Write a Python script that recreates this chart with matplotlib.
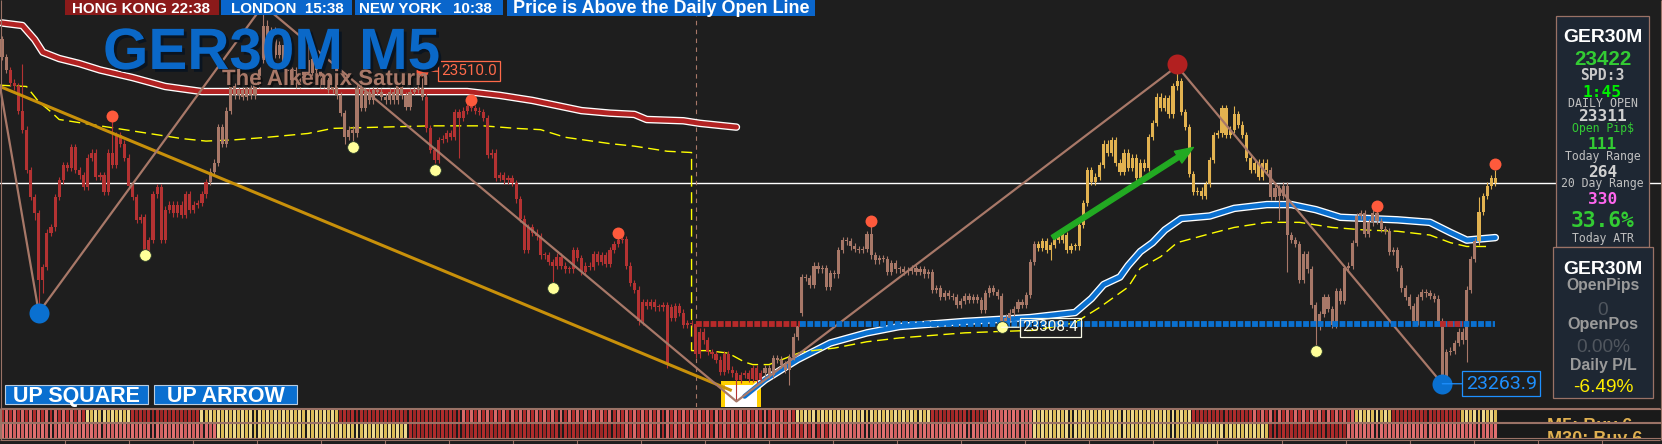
import numpy as np
import matplotlib
matplotlib.use('Agg')
import matplotlib.pyplot as plt
from matplotlib import patheffects as pe
from matplotlib import font_manager as fm
from matplotlib.patches import Rectangle, FancyArrowPatch

W, H = 1662, 444
BG = '#1e1e1e'
TAN = '#a87868'
BORDER = '#9a7266'

# ---- GER30M M5 closes, one per bar ----
closes = [
    23521, 23511, 23501, 23498, 23479, 23464, 23432, 23411, 23398, 23346,
    23356, 23383, 23387, 23411, 23424, 23436, 23434, 23450, 23432, 23428,
    23419, 23442, 23446, 23427, 23428, 23415, 23446, 23436, 23460, 23453,
    23442, 23420, 23411, 23393, 23395, 23369, 23377, 23413, 23419, 23377,
    23401, 23405, 23398, 23405, 23397, 23413, 23401, 23405, 23406, 23413,
    23423, 23431, 23438, 23466, 23453, 23479, 23498, 23491, 23495, 23490,
    23497, 23491, 23499, 23519, 23546, 23535, 23542, 23523, 23531, 23515,
    23503, 23511, 23499, 23505, 23519, 23509, 23520, 23511, 23499, 23503,
    23495, 23499, 23491, 23477, 23458, 23464, 23461, 23497, 23481, 23494,
    23487, 23495, 23494, 23490, 23487, 23494, 23487, 23498, 23491, 23482,
    23494, 23495, 23497, 23490, 23465, 23448, 23440, 23456, 23457, 23461,
    23458, 23478, 23473, 23479, 23483, 23481, 23479, 23478, 23473, 23444,
    23446, 23426, 23428, 23424, 23426, 23422, 23409, 23394, 23369, 23387,
    23383, 23380, 23365, 23365, 23360, 23357, 23364, 23357, 23354, 23354,
    23369, 23363, 23352, 23357, 23356, 23366, 23360, 23365, 23358, 23369,
    23374, 23377, 23378, 23357, 23343, 23338, 23313, 23328, 23325, 23328,
    23324, 23324, 23326, 23279, 23316, 23325, 23320, 23310, 23312, 23311,
    23287, 23305, 23298, 23289, 23287, 23283, 23273, 23287, 23275, 23272,
    23267, 23271, 23272, 23268, 23276, 23267, 23272, 23276, 23271, 23284,
    23283, 23279, 23275, 23285, 23301, 23309, 23348, 23347, 23342, 23357,
    23354, 23355, 23340, 23351, 23350, 23369, 23377, 23376, 23372, 23370,
    23369, 23370, 23382, 23365, 23361, 23363, 23362, 23352, 23359, 23354,
    23354, 23352, 23353, 23355, 23352, 23354, 23350, 23352, 23338, 23339,
    23332, 23335, 23333, 23332, 23326, 23329, 23333, 23330, 23332, 23330,
    23322, 23335, 23339, 23336, 23333, 23310, 23316, 23320, 23323, 23328,
    23326, 23334, 23360, 23374, 23371, 23376, 23369, 23373, 23380, 23377,
    23381, 23369, 23372, 23372, 23389, 23406, 23432, 23423, 23427, 23436,
    23453, 23446, 23456, 23438, 23431, 23446, 23434, 23442, 23426, 23438,
    23434, 23458, 23469, 23490, 23481, 23489, 23476, 23498, 23502, 23478,
    23466, 23429, 23415, 23416, 23412, 23421, 23440, 23460, 23461, 23481,
    23460, 23464, 23476, 23468, 23460, 23442, 23432, 23438, 23427, 23438,
    23432, 23411, 23418, 23412, 23420, 23381, 23377, 23374, 23346, 23366,
    23354, 23326, 23309, 23319, 23332, 23323, 23310, 23337, 23329, 23355,
    23357, 23375, 23396, 23398, 23382, 23391, 23398, 23392, 23386, 23384,
    23368, 23369, 23355, 23339, 23332, 23325, 23313, 23332, 23336, 23335,
    23333, 23331, 23313, 23266, 23289, 23290, 23296, 23305, 23298, 23338,
    23362, 23376, 23399, 23412, 23420, 23426, 23422,
]
open_fix = {0: 23535, 164: 23324, 196: 23320}
high_fix = {5: 23516, 27: 23472, 64: 23562, 65: 23550, 75: 23531, 103: 23510,
            115: 23483, 151: 23379, 213: 23389, 288: 23514, 302: 23483,
            337: 23400, 362: 23411, 366: 23432}
low_fix = {8: 23393, 9: 23320, 10: 23335, 35: 23368, 84: 23453, 86: 23453,
           106: 23438, 112: 23442, 135: 23344, 163: 23276, 180: 23250,
           193: 23263, 245: 23308.4, 257: 23361, 313: 23393, 315: 23352,
           322: 23293, 353: 23263.9, 359: 23281}
candle_runs = [('tan', 2), ('red', 49), ('tan', 53), ('red', 83), ('tan', 67),
               ('gold', 57), ('tan', 51), ('gold', 5)]

daily_open = 23311
current_price = 23422
day_start = 170
open_line_runs = [(170, 195.5, 'red'), (195.5, 366, 'blue'), (352.5, 358, 'red')]

# moving averages (sampled from the chart)
red_ma_x = [0, 5, 8, 10, 14, 19, 24, 32, 40, 49, 75, 114, 122, 130, 136, 142,
            149, 155, 158, 167, 171, 180]
red_ma_y = [23548, 23546, 23535, 23525, 23520, 23516, 23511, 23505, 23498,
            23494, 23494, 23494, 23491, 23487, 23483, 23479, 23477, 23476,
            23472, 23471, 23469, 23466]
blue_ma_x = [182, 187, 195, 203, 212, 220, 236, 252, 263, 267, 270, 274, 276,
             279, 282, 285, 289, 296, 302, 310, 316, 322, 328, 342, 350, 355,
             359, 366]
blue_ma_y = [23254, 23267, 23283, 23296, 23304, 23309, 23313, 23316, 23320,
             23331, 23342, 23348, 23357, 23368, 23375, 23385, 23394, 23396,
             23402, 23405, 23405, 23401, 23395, 23393, 23391, 23383, 23377,
             23379]
yel_x = [-0.5, 6, 9, 12, 14, 18, 26, 36, 44, 50, 57, 65, 75, 81, 93, 105, 118,
         126, 132, 138, 149, 155, 163, 169, 169, 173, 178, 182, 184, 188, 196,
         204, 212, 220, 228, 236, 244, 253, 263, 269, 276, 279, 284, 288, 296,
         302, 310, 318, 326, 334, 342, 350, 355, 359, 365]
yel_y = [23499, 23498, 23486, 23478, 23472, 23470, 23466, 23461, 23457, 23455,
         23456, 23458, 23461, 23465, 23466, 23467, 23467, 23465, 23464, 23458,
         23453, 23451, 23447, 23446, 23290, 23290, 23288, 23281, 23279, 23279,
         23289, 23292, 23297, 23300, 23302, 23304, 23305, 23306, 23312, 23324,
         23340, 23355, 23364, 23375, 23382, 23387, 23391, 23391, 23387, 23385,
         23384, 23381, 23375, 23372, 23372]

trend_x = [-0.5, 178.5]
trend_y = [23498, 23259]
zz_x = [-0.5, 9, 64, 180, 288, 353]
zz_y = [23498, 23320, 23562, 23250, 23514, 23263.9]
frac_hi_x = [27, 103, 115, 151, 213, 337, 366]
frac_hi_y = [23475, 23510, 23487, 23383, 23392, 23404, 23437]
frac_lo_x = [35, 86, 106, 135, 245, 322]
frac_lo_y = [23365, 23450, 23432, 23339, 23308.4, 23290]
arrow_from = (257.5, 23379)
arrow_to = (292, 23450)
signal_bar, signal_top = 181, 23266

band1_runs = [('M', 21), ('G', 11), ('R', 17), ('G', 34), ('R', 29), ('M', 83),
              ('G', 33), ('R', 14), ('S', 11), ('G', 39), ('R', 14), ('M', 26),
              ('G', 9), ('R', 17), ('G', 9)]
band2_runs = [('S', 53), ('G', 47), ('R', 52), ('M', 52), ('S', 49), ('G', 58),
              ('R', 19), ('S', 37)]

# ---- fonts ----
names = {f.name for f in fm.fontManager.ttflist}
HAS_NARROW = 'Liberation Sans Narrow' in names


def narrow(size):
    if HAS_NARROW:
        return 'Liberation Sans Narrow', size
    return 'Liberation Sans', size * 0.82


# ---- build candles ----
n = len(closes)
idx = np.arange(n)
c = np.array(closes, float)
o = np.r_[c[0], c[:-1]]
for k, v in open_fix.items():
    o[k] = v
hi = np.maximum(o, c) + 2.5
lo = np.minimum(o, c) - 2.5
for k, v in high_fix.items():
    hi[k] = v
for k, v in low_fix.items():
    lo[k] = v
ccol = {'red': '#b43232', 'tan': '#a87868', 'gold': '#e2b250'}
cols = np.repeat([ccol[k] for k, _ in candle_runs], [m for _, m in candle_runs])

fig = plt.figure(figsize=(W / 100, H / 100), dpi=100, facecolor=BG)
ax = fig.add_axes([0, 37 / H, 1, 407 / H])
ax.set_facecolor(BG)
ax.set_xlim(-0.5, W / 4.08 - 0.5)
ax.set_ylim(23245.6, 23566.1)
ax.axis('off')

# signal square
ax.add_patch(Rectangle((signal_bar - 4.8, 23245.6), 9.8, signal_top - 23245.6,
                       fc='#ffd000', ec='none', zorder=1))
ax.add_patch(Rectangle((signal_bar - 3.8, 23245.6), 7.8, signal_top - 23248.4,
                       fc='white', ec='none', zorder=1.1))

ax.axhline(current_price, color='white', lw=1.0, zorder=2)
ax.axvline(day_start, color=TAN, lw=0.8, dashes=(4, 4), zorder=2)

# moving averages
ax.plot(red_ma_x, red_ma_y, color='white', lw=5.4, solid_capstyle='round', zorder=3)
ax.plot(red_ma_x, red_ma_y, color='#b22222', lw=3.5, solid_capstyle='round', zorder=3.1)
ax.plot(blue_ma_x, blue_ma_y, color='white', lw=5.4, solid_capstyle='round', zorder=3)
ax.plot(blue_ma_x, blue_ma_y, color='#0a70d0', lw=3.5, solid_capstyle='round', zorder=3.1)
ax.plot(yel_x, yel_y, color='#ffff00', lw=1.0, dashes=(8, 4), zorder=3.2)

# candles
ax.vlines(idx, lo, hi, colors=cols, lw=0.8, zorder=4)
ax.bar(idx, np.maximum(np.abs(c - o), 0.9), bottom=np.minimum(o, c), width=0.76,
       color=cols, linewidth=0, zorder=4.1)

# trend, zigzag, daily open
ax.plot(trend_x, trend_y, color='#c8900a', lw=2.2, zorder=5)
ax.plot(zz_x, zz_y, color=TAN, lw=1.6, zorder=5)
lcol = {'red': '#b82a2a', 'blue': '#0a70d0'}
for a, b, k in open_line_runs:
    ax.plot([a, b], [daily_open, daily_open], color=lcol[k], lw=4.2,
            dashes=(1, 0.25), zorder=5.2)

ax.add_patch(FancyArrowPatch(arrow_from, arrow_to,
                             arrowstyle='simple,head_length=1.3,head_width=1.0,tail_width=0.35',
                             mutation_scale=10, color='#22aa22', shrinkA=0, shrinkB=0, zorder=6))

# dots
ax.plot(frac_hi_x, frac_hi_y, 'o', ms=8.6, color='#ff5a3c', mec='none', zorder=6)
ax.plot(frac_lo_x, frac_lo_y, 'o', ms=8.4, color='#ffff99', mec='#2a3a2a', mew=0.6, zorder=6)
ax.plot([zz_x[1], zz_x[5]], [zz_y[1], zz_y[5]], 'o', ms=14.4, color='#0a70d0', mec='none', zorder=6)
ax.plot([zz_x[4]], [zz_y[4] + 2], 'o', ms=14.4, color='#b22020', mec='none', zorder=6)


def price_label(bar, price, text, color, size, dx):
    ax.annotate(text, xy=(bar, price), xytext=(dx, 0), textcoords='offset points',
                ha='left', va='center', color=color, fontsize=size,
                family='Roboto', fontweight='normal',
                bbox=dict(boxstyle='square,pad=0.18', fc='none', ec=color, lw=0.9),
                arrowprops=dict(arrowstyle='-', color=color, lw=0.9, shrinkA=0, shrinkB=0),
                zorder=8)


price_label(103, 23510.0, '23510.0', '#ff6a4a', 11, 13.5)
price_label(245, 23308.4, '23308.4', '#fafae6', 11, 15)
price_label(353, 23263.9, '23263.9', '#1e90ff', 14, 17)

# ---- heat bands ----
bcol = {'R': ('#b02c2c', '#9c2626'), 'S': ('#e07070', '#d06060'),
        'G': ('#dcbc58', '#eed88c'), 'M': ('#b02c2c', '#d86868')}


def band(rect, runs, label, base):
    b = fig.add_axes(rect)
    b.set_facecolor('#1a1a1a')
    b.set_xlim(ax.get_xlim())
    b.set_ylim(0, 1)
    codes = np.repeat([k for k, _ in runs], [m for _, m in runs])
    colors = [bcol[k][i % 2] for i, k in enumerate(codes)]
    b.bar(np.arange(len(codes)), 1, width=0.72, color=colors, linewidth=0)
    b.set_xticks([])
    b.set_yticks([])
    for s in b.spines.values():
        s.set_color(BORDER)
        s.set_linewidth(0.8)
    b.text(1547 / W, base, label, transform=b.transAxes, ha='left', va='baseline',
           color='#e0b050', fontsize=13, fontweight='bold', family='Liberation Sans', clip_on=True)


band([0, (H - 422) / H, 1, 13 / H], band1_runs, 'M5: Buy 6', -0.69)
band([0, (H - 438) / H, 1, 15 / H], band2_runs, 'M30: Buy 6', -0.4)

# ---- overlay (pixel coordinates) ----
ov = fig.add_axes([0, 0, 1, 1], zorder=10)
ov.set_xlim(0, W)
ov.set_ylim(H, 0)
ov.axis('off')
ov.patch.set_alpha(0)

ov.vlines([0.5, 1660.5], 0, 440, color=BORDER, lw=0.8)
ov.hlines([407.5, 439.5], 0, 1660, color=BORDER, lw=0.8)
ov.vlines(np.arange(64.6, 1660, 64.05), 440, 444, color=BORDER, lw=0.8)

# session bars
for x0, w0, h0, fc in [(65, 154, 15, '#8b1a1a'), (221, 131, 15, '#0a66cc'),
                       (355, 148, 15, '#0a66cc'), (507, 308, 16, '#0a66cc')]:
    ov.add_patch(Rectangle((x0, 0), w0, h0, fc=fc, ec='none'))
tkw = dict(color='white', fontweight='bold', family='Liberation Sans', va='baseline')
ov.text(72, 13, 'HONG KONG 22:38', fontsize=10.9, **tkw)
ov.text(231, 13, 'LONDON  15:38', fontsize=10.9, **tkw)
ov.text(359, 13, 'NEW YORK', fontsize=10.9, **tkw)
ov.text(492, 13, '10:38', fontsize=10.9, ha='right', **tkw)
ov.text(513, 13, 'Price is Above the Daily Open Line', fontsize=13, **tkw)

# title
ov.text(103, 69, 'GER30M M5', fontsize=42, fontweight='bold', family='Liberation Sans',
        color='#0a68c8', path_effects=[pe.withSimplePatchShadow(offset=(2, -2),
                                                                 shadow_rgbFace='#0a1420', alpha=1)])
ov.text(222, 85, 'The Alkemix Saturn', fontsize=16, fontweight='bold', family='Liberation Sans',
        color=TAN, path_effects=[pe.withSimplePatchShadow(offset=(1.5, -1.5),
                                                           shadow_rgbFace='#101010', alpha=1)])

# buttons
for x0, label in [(5, 'UP SQUARE'), (154, 'UP ARROW')]:
    ov.add_patch(Rectangle((x0, 385), 143, 19, fc='#0a6fd0', ec='#b8cce0', lw=0.8))
    ov.text(x0 + 71.5, 402, label, ha='center', va='baseline', fontsize=15.5,
            fontweight='bold', family='Liberation Sans', color='white')

# info panels
PANEL = '#1e2733'
ov.add_patch(Rectangle((1556, 16), 93, 231, fc=PANEL, ec=BORDER, lw=0.9))
ov.add_patch(Rectangle((1553, 247), 100, 151, fc=PANEL, ec=BORDER, lw=0.9))


def ptext(y, s, size, color, family='DejaVu Sans Mono', weight='normal', nar=False, x=1602.5):
    if nar:
        family, size = narrow(size)
    ov.text(x, y, s, ha='center', va='baseline', fontsize=size, color=color,
            family=family, fontweight=weight)


ptext(42, 'GER30M', 17, 'white', weight='bold', nar=True)
ptext(65, '23422', 18, '#33cc33', weight='bold', nar=True)
ptext(80, 'SPD:3', 10.6, '#c8c8c8', weight='bold')
ptext(97, '1:45', 11.7, '#00ee00', weight='bold')
ptext(107, 'DAILY OPEN', 8.4, '#c0c0c0')
ptext(121, '23311', 11.6, '#d0d0d0', weight='bold')
ptext(132, 'Open Pip$', 8.3, '#33cc33')
ptext(149, '111', 11.6, '#33cc33', weight='bold')
ptext(160, 'Today Range', 8.3, '#c0c0c0')
ptext(177, '264', 11.6, '#d0d0d0', weight='bold')
ptext(187, '20 Day Range', 8.3, '#c0c0c0')
ptext(204, '330', 11.6, '#ff66ee', weight='bold')
ptext(227, '33.6%', 15.3, '#33cc33', weight='bold')
ptext(242, 'Today ATR', 8.3, '#c0c0c0')

ptext(274, 'GER30M', 17, 'white', weight='bold', nar=True, x=1603)
ptext(290, 'OpenPips', 11.3, '#9a9a9a', family='Liberation Sans', weight='bold', x=1603)
ptext(315, '0', 16.8, '#50565e', nar=True, x=1603)
ptext(329, 'OpenPos', 11.7, '#9a9a9a', family='Liberation Sans', weight='bold', x=1603)
ptext(352, '0.00%', 16.8, '#50565e', nar=True, x=1603)
ptext(370, 'Daily P/L', 11.4, '#9a9a9a', family='Liberation Sans', weight='bold', x=1603)
ptext(392, '-6.49%', 16.8, '#ffee00', nar=True, x=1603)

fig.savefig('out.png', dpi=100, facecolor=BG)
